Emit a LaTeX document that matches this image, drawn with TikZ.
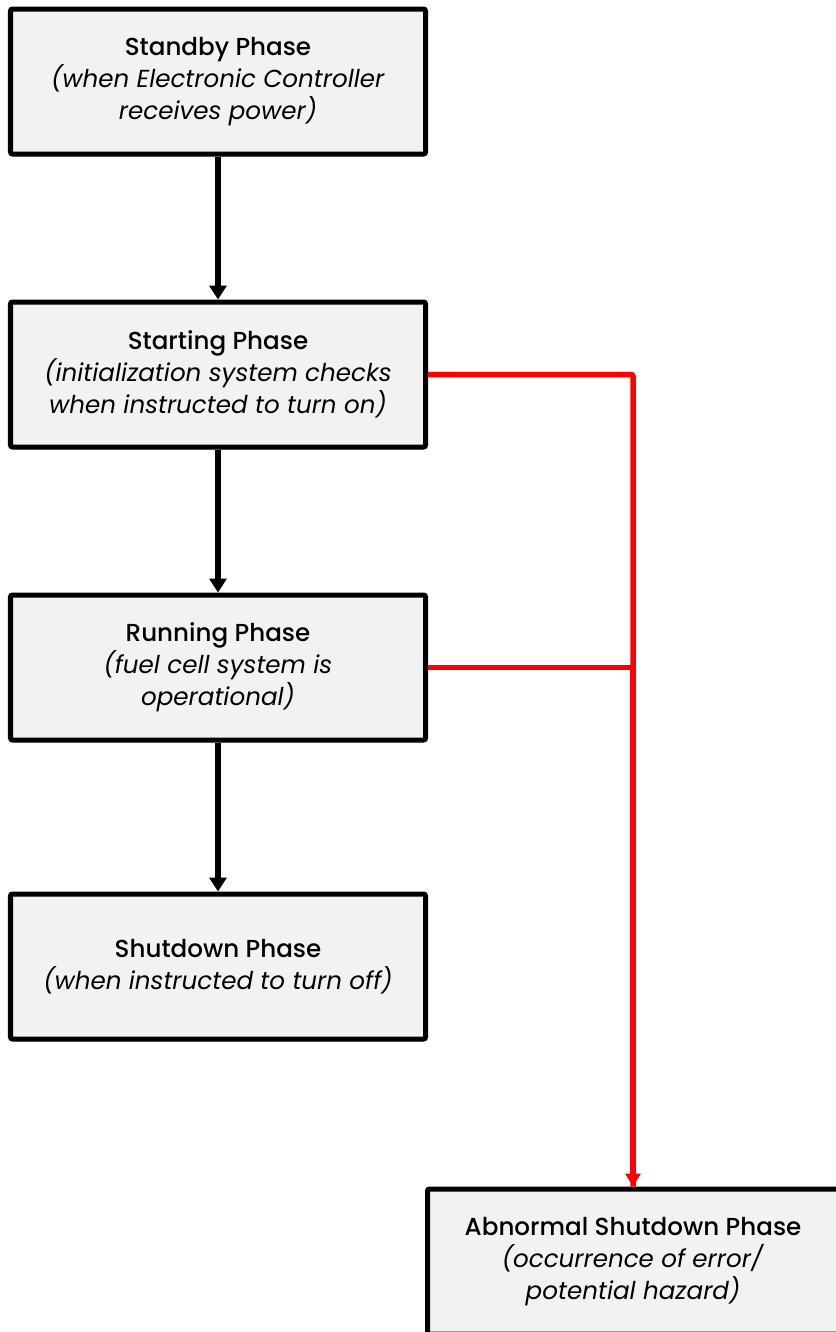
\documentclass[tikz,border=0pt]{standalone}
\usepackage{fontspec}
\setmainfont{Poppins}[BoldFont={Poppins Medium}]
\usetikzlibrary{positioning,arrows.meta,shadows}
\definecolor{boxfill}{HTML}{F2F2F2}
\definecolor{faultred}{HTML}{FF0000}

\begin{document}
\begin{tikzpicture}[
    node distance=2.86cm,
    phase/.style={draw, line width=0.1cm, fill=boxfill, rounded corners=0.04cm,
        minimum width=8.3cm, minimum height=2.9cm, align=center,
        font=\fontsize{14}{18.2}\selectfont,
        drop shadow={shadow xshift=0.04cm, shadow yshift=-0.05cm, opacity=0.25}},
    flow/.style={line width=0.12cm, -{Triangle[length=0.28cm, width=0.34cm]}},
    fault/.style={draw=faultred, line width=0.11cm, rounded corners=0.04cm}
  ]
    \useasboundingbox (0,0) rectangle (16.7,-26.64);
    \node[phase] (standby) at (4.36,-1.63)
        {\textbf{Standby Phase}\\\textit{(when Electronic Controller}\\\textit{receives power)}};
    \node[phase, below=of standby] (starting)
        {\textbf{Starting Phase}\\\textit{(initialization system checks}\\\textit{when instructed to turn on)}};
    \node[phase, below=2.86cm of starting] (running)
        {\textbf{Running Phase}\\\textit{(fuel cell system is}\\\textit{operational)}};
    \node[phase, below=2.98cm of running] (shutdown)
        {\textbf{Shutdown Phase}\\\textit{(when instructed to turn off)}};
    \node[phase, minimum width=8.22cm] (abnormal) at (12.66,-25.23)
        {\textbf{Abnormal Shutdown Phase}\\\textit{(occurrence of error/}\\\textit{potential hazard)}};
    \draw[flow] (standby) -- (starting);
    \draw[flow] (starting) -- (running);
    \draw[flow] (running) -- (shutdown);
    \draw[fault] (starting.east) -| (abnormal.north);
    \draw[fault] (running.east) -- (running.east -| abnormal.north);
    \draw[fault, -{Triangle[length=0.26cm, width=0.3cm]}, rounded corners=0pt]
        (running.east -| abnormal.north) -- (abnormal.north);
\end{tikzpicture}
\end{document}
